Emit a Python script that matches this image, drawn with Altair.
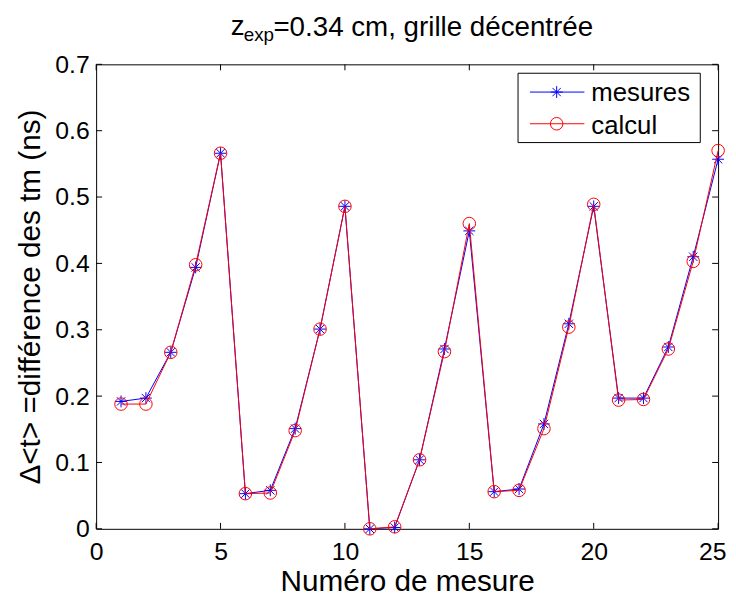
import altair as alt
import pandas as pd

# ---- data ----
numero = list(range(1, 26))
mesures = [0.192, 0.197, 0.266, 0.394, 0.566, 0.053, 0.058, 0.151, 0.301, 0.486,
           0.000, 0.002, 0.104, 0.271, 0.449, 0.056, 0.060, 0.158, 0.309, 0.486,
           0.197, 0.197, 0.274, 0.410, 0.557]
calcul = [0.188, 0.188, 0.266, 0.398, 0.566, 0.053, 0.054, 0.148, 0.301, 0.486,
          0.000, 0.003, 0.104, 0.267, 0.460, 0.056, 0.058, 0.151, 0.304, 0.489,
          0.194, 0.195, 0.271, 0.403, 0.570]
x_ticks = [0, 5, 10, 15, 20, 25]
y_ticks = [0, 0.1, 0.2, 0.3, 0.4, 0.5, 0.6, 0.7]
legend_labels = ["mesures", "calcul"]
title_parts = ["z", "exp", "=0.34 cm, grille décentrée"]
x_title = "Numéro de mesure"
y_title = "Δ<t> =différence des tm (ns)"

W, H = 628, 469
FONT = "Liberation Sans"
BLUE = "#0000ff"
RED = "#ff0000"
ASTERISK = "M-1,0L1,0M0,-1L0,1M-0.7,-0.7L0.7,0.7M-0.7,0.7L0.7,-0.7"

xs = alt.Scale(domain=[0, 25], nice=False, zero=False)
ys = alt.Scale(domain=[0, 0.7], nice=False, zero=False)

df_m = pd.DataFrame({"n": numero, "v": mesures})
df_c = pd.DataFrame({"n": numero, "v": calcul})

x_axis = alt.Axis(values=x_ticks, ticks=False, domain=False, grid=False,
                  labelFontSize=25, labelFont=FONT, labelColor="black",
                  labelPadding=11, labelFlush=False,
                  labelOffset=alt.ExprRef(expr="datum.value == 25 ? -6 : 0"),
                  title=x_title, titleFont=FONT, titleFontSize=30,
                  titleFontWeight="normal", titleColor="black", titlePadding=2)
y_axis = alt.Axis(values=y_ticks, ticks=False, domain=False, grid=False,
                  format="~g", labelFontSize=25, labelFont=FONT, labelColor="black",
                  labelPadding=7, labelFlush=False,
                  title=y_title, titleFont=FONT, titleFontSize=30,
                  titleFontWeight="normal", titleColor="black", titlePadding=9)

X = alt.X("n:Q", scale=xs, axis=x_axis, title=x_title)
Y = alt.Y("v:Q", scale=ys, axis=y_axis, title=y_title)

line_m = alt.Chart(df_m).mark_line(color=BLUE, strokeWidth=1).encode(x=X, y=Y)
pts_m = alt.Chart(df_m).mark_point(shape=ASTERISK, filled=False, stroke=BLUE,
                                   strokeWidth=1, size=144, opacity=1).encode(x=X, y=Y)
line_c = alt.Chart(df_c).mark_line(color=RED, strokeWidth=1).encode(x=X, y=Y)
pts_c = alt.Chart(df_c).mark_point(shape="circle", filled=False, stroke=RED,
                                   strokeWidth=1, size=160, opacity=1).encode(x=X, y=Y)

# inward ticks on all four sides (MATLAB style)
df_yt = pd.DataFrame({"v": y_ticks})
df_xt = pd.DataFrame({"n": x_ticks})
TL = 6
tick_left = alt.Chart(df_yt).mark_rule(color="black", strokeWidth=1).encode(
    y=Y, x=alt.value(0), x2=alt.value(TL))
tick_right = alt.Chart(df_yt).mark_rule(color="black", strokeWidth=1).encode(
    y=Y, x=alt.value(W - TL), x2=alt.value(W))
tick_bottom = alt.Chart(df_xt).mark_rule(color="black", strokeWidth=1).encode(
    x=X, y=alt.value(H - TL), y2=alt.value(H))
tick_top = alt.Chart(df_xt).mark_rule(color="black", strokeWidth=1).encode(
    x=X, y=alt.value(0), y2=alt.value(TL))

# title with subscript
one = pd.DataFrame({"k": [0]})
t_z = alt.Chart(one).mark_text(align="left", baseline="alphabetic", font=FONT,
                               fontSize=28, color="black").encode(
    x=alt.value(136), y=alt.value(-30), text=alt.value(title_parts[0]))
t_exp = alt.Chart(one).mark_text(align="left", baseline="alphabetic", font=FONT,
                                 fontSize=19, color="black").encode(
    x=alt.value(149), y=alt.value(-24), text=alt.value(title_parts[1]))
t_main = alt.Chart(one).mark_text(align="left", baseline="alphabetic", font=FONT,
                                  fontSize=28, color="black").encode(
    x=alt.value(179), y=alt.value(-29), text=alt.value(title_parts[2]))

# legend box
leg_box = alt.Chart(one).mark_rect(fill="white", stroke="black", strokeWidth=1).encode(
    x=alt.value(426), x2=alt.value(610), y=alt.value(9), y2=alt.value(79))
leg_l1 = alt.Chart(one).mark_rule(color=BLUE, strokeWidth=1).encode(
    x=alt.value(438), x2=alt.value(493), y=alt.value(28))
leg_p1 = alt.Chart(one).mark_point(shape=ASTERISK, filled=False, stroke=BLUE,
                                   strokeWidth=1, size=144, opacity=1).encode(
    x=alt.value(465), y=alt.value(28))
leg_t1 = alt.Chart(one).mark_text(align="left", baseline="alphabetic", font=FONT,
                                  fontSize=26, color="black").encode(
    x=alt.value(500), y=alt.value(37), text=alt.value(legend_labels[0]))
leg_l2 = alt.Chart(one).mark_rule(color=RED, strokeWidth=1).encode(
    x=alt.value(438), x2=alt.value(493), y=alt.value(60))
leg_p2 = alt.Chart(one).mark_point(shape="circle", filled=False, stroke=RED,
                                   strokeWidth=1, size=160, opacity=1).encode(
    x=alt.value(465), y=alt.value(60))
leg_t2 = alt.Chart(one).mark_text(align="left", baseline="alphabetic", font=FONT,
                                  fontSize=26, color="black").encode(
    x=alt.value(500), y=alt.value(70), text=alt.value(legend_labels[1]))

chart = alt.layer(
    line_m, pts_m, line_c, pts_c,
    tick_left, tick_right, tick_bottom, tick_top,
    t_z, t_exp, t_main,
    leg_box, leg_l1, leg_p1, leg_t1, leg_l2, leg_p2, leg_t2,
).properties(
    width=W, height=H,
    autosize=alt.AutoSizeParams(type="none"),
    padding={"left": 89, "top": 54, "right": 10, "bottom": 70},
    background="white",
).configure_view(
    stroke="black", strokeWidth=1
)

chart.save("out.html", embed_options={"renderer": "svg", "actions": False})
